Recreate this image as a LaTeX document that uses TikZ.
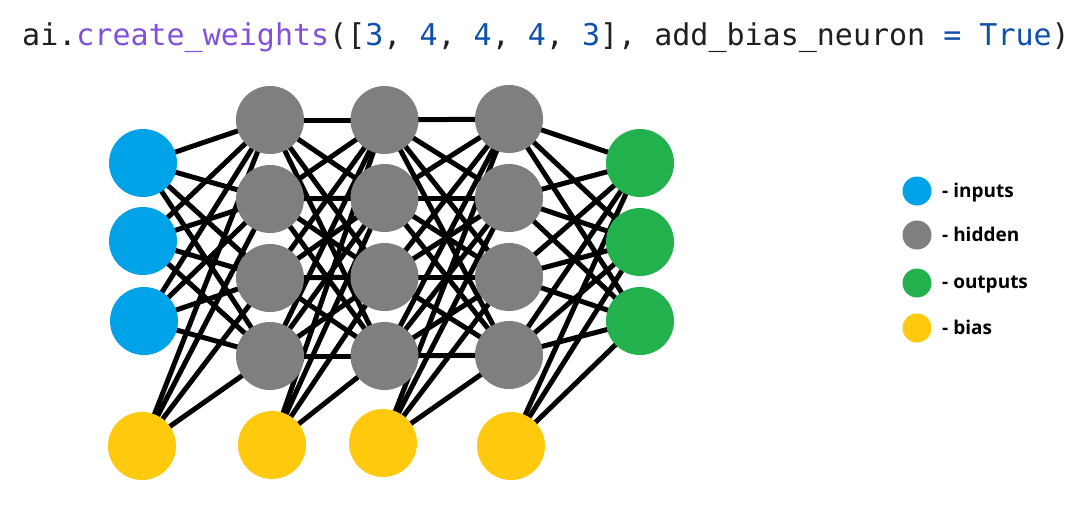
\documentclass[tikz,border=0pt]{standalone}
\usepackage{fontspec}
\setmainfont{Open Sans}
\newfontfamily\codefont{DejaVu Sans Mono}
\usetikzlibrary{backgrounds}
\definecolor{inblue}{HTML}{00A2E8}
\definecolor{hidgray}{HTML}{7F7F7F}
\definecolor{outgreen}{HTML}{22B14C}
\definecolor{biasyellow}{HTML}{FFC90E}
\definecolor{codedark}{RGB}{31,31,31}
\definecolor{codepurple}{RGB}{130,80,220}
\definecolor{codeblue}{RGB}{15,80,170}
\begin{document}
\begin{tikzpicture}[x=1pt,y=-1pt,
  neuron/.style={circle,minimum size=68pt,inner sep=0pt},
  innode/.style={neuron,fill=inblue},
  hidnode/.style={neuron,fill=hidgray},
  outnode/.style={neuron,fill=outgreen},
  biasnode/.style={neuron,fill=biasyellow},
  legdot/.style={circle,minimum size=29pt,inner sep=0pt},
  legtext/.style={anchor=base west,inner sep=0pt,font=\fontsize{19}{21}\selectfont\bfseries},
  link/.style={line width=5pt,black}]
\useasboundingbox (0,0) rectangle (1084,509);
% title
\node[anchor=base west,inner sep=0pt,font=\codefont\fontsize{30}{34}\selectfont,text=codedark] (title) at (22,45)
 {ai.\textcolor{codepurple}{create\_weights}([\textcolor{codeblue}{3}, \textcolor{codeblue}{4}, \textcolor{codeblue}{4}, \textcolor{codeblue}{4}, \textcolor{codeblue}{3}], add\_bias\_neuron \textcolor{codeblue}{=} \textcolor{codeblue}{True})};
% neurons
\node[innode] (i1) at (143,163) {};
\node[innode] (i2) at (143,241) {};
\node[innode] (i3) at (144,321) {};
\node[hidnode] (a1) at (270,120) {};
\node[hidnode] (a2) at (270,199) {};
\node[hidnode] (a3) at (270,278) {};
\node[hidnode] (a4) at (270,356) {};
\node[hidnode] (c1) at (384.5,120) {};
\node[hidnode] (c2) at (384.5,198) {};
\node[hidnode] (c3) at (384.5,277) {};
\node[hidnode] (c4) at (384.5,356) {};
\node[hidnode] (d1) at (509,119) {};
\node[hidnode] (d2) at (509,198) {};
\node[hidnode] (d3) at (509,277) {};
\node[hidnode] (d4) at (509,355) {};
\node[outnode] (o1) at (640,163) {};
\node[outnode] (o2) at (640,242) {};
\node[outnode] (o3) at (640,321) {};
\node[biasnode] (b1) at (142,446) {};
\node[biasnode] (b2) at (272,445) {};
\node[biasnode] (b3) at (383,443) {};
\node[biasnode] (b4) at (511,446) {};
% connections
\begin{scope}[on background layer]
\foreach \s in {i1,i2,i3,b1}{\foreach \t in {a1,a2,a3,a4}{\draw[link] (\s.center) -- (\t.center);}}
\foreach \s in {a1,a2,a3,a4,b2}{\foreach \t in {c1,c2,c3,c4}{\draw[link] (\s.center) -- (\t.center);}}
\foreach \s in {c1,c2,c3,c4,b3}{\foreach \t in {d1,d2,d3,d4}{\draw[link] (\s.center) -- (\t.center);}}
\foreach \s in {d1,d2,d3,d4,b4}{\foreach \t in {o1,o2,o3}{\draw[link] (\s.center) -- (\t.center);}}
\end{scope}
% legend
\node[legdot,fill=inblue] (l1) at (917,191) {};
\node[legdot,fill=hidgray] (l2) at (917,235) {};
\node[legdot,fill=outgreen] (l3) at (917,283) {};
\node[legdot,fill=biasyellow] (l4) at (917,328) {};
\node[legtext] (t1) at (942,197) {- inputs};
\node[legtext] (t2) at (942,241) {- hidden};
\node[legtext] (t3) at (942,288) {- outputs};
\node[legtext] (t4) at (942,334) {- bias};
\end{tikzpicture}
\end{document}
